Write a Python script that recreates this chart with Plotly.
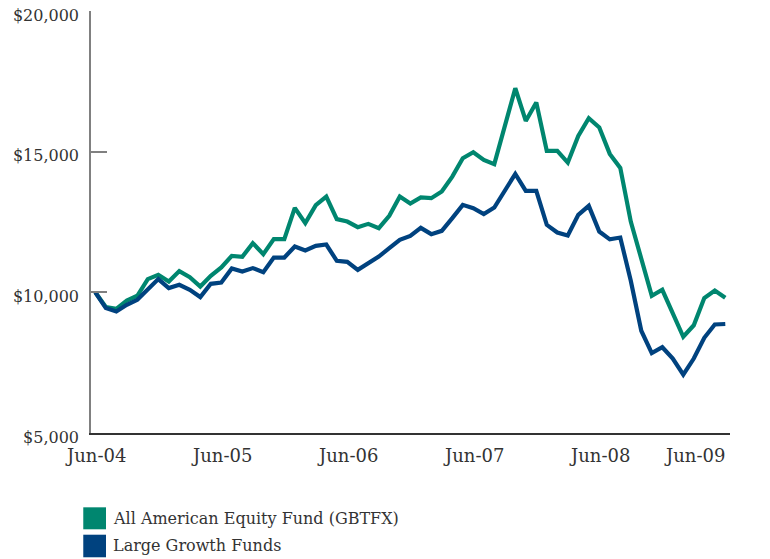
import pandas as pd
import plotly.graph_objects as go

months = list(pd.date_range("2004-06-01", "2009-06-01", freq="MS").strftime("%b-%y"))

fund_values = [
    10000, 9476, 9415, 9710, 9877, 10470, 10623, 10385, 10754, 10541,
    10207, 10587, 10882, 11298, 11262, 11749, 11358, 11891, 11891, 13003,
    12459, 13099, 13404, 12601, 12516, 12317, 12434, 12282, 12719, 13404,
    13159, 13376, 13347, 13582, 14114, 14768, 14981, 14708, 14558, 15890,
    17254, 16093, 16750, 15027, 15027, 14612, 15560, 16189, 15862, 14921,
    14424, 12516, 11216, 9877, 10090, 9262, 8421, 8829, 9795, 10065,
    9806,
]
peer_values = [
    10000, 9440, 9319, 9557, 9735, 10090, 10470, 10150, 10268, 10090,
    9831, 10303, 10349, 10847, 10740, 10861, 10719, 11237, 11237, 11628,
    11486, 11653, 11699, 11120, 11085, 10800, 11038, 11273, 11571, 11866,
    12008, 12292, 12069, 12186, 12637, 13109, 12992, 12779, 13013, 13642,
    14210, 13607, 13607, 12399, 12125, 12019, 12754, 13074, 12161, 11884,
    11948, 10410, 8634, 7842, 8048, 7646, 7071, 7646, 8385, 8857,
    8875,
]

series_names = ["All American Equity Fund (GBTFX)", "Large Growth Funds"]
series_colors = ["#00866F", "#00427F"]

y_tickvals = [5000, 10000, 15000, 20000]
y_ticktext = ["$5,000", "$10,000", "$15,000", "$20,000"]
x_ticklabels = ["Jun-04", "Jun-05", "Jun-06", "Jun-07", "Jun-08", "Jun-09"]

SERIF = "DejaVu Serif"
TEXT = "#333333"

fig = go.Figure()
for name, vals, col in [(series_names[0], fund_values, series_colors[0]),
                        (series_names[1], peer_values, series_colors[1])]:
    fig.add_trace(go.Scatter(x=months, y=vals, mode="lines", name=name,
                             line=dict(color=col, width=4.2), showlegend=False))

# x tick labels as annotations (last one kept inside the axis end)
annotations = []
for lab in x_ticklabels:
    last = lab == x_ticklabels[-1]
    annotations.append(dict(
        x=lab, y=-0.053, xref="x", yref="paper", text=lab, showarrow=False,
        xanchor="right" if last else "center", yanchor="middle", xshift=2 if last else 0,
        font=dict(family=SERIF, size=18, color=TEXT)))

# legend: swatches + labels
shapes = []
leg_rows = [(-0.1761, -0.2282), (-0.2410, -0.2945)]
for (y1, y0), name, col in zip(leg_rows, series_names, series_colors):
    shapes.append(dict(type="rect", xref="paper", yref="paper",
                       x0=-0.0121, x1=0.0235, y0=y0, y1=y1,
                       fillcolor=col, line=dict(width=0)))
    annotations.append(dict(x=0.0313, y=(y0 + y1) / 2, xref="paper", yref="paper",
                            text=name, showarrow=False, xanchor="left", yanchor="middle",
                            font=dict(family=SERIF, size=16, color=TEXT)))

fig.update_layout(
    width=770, height=559,
    margin=dict(l=91, r=40, t=11, b=126),
    paper_bgcolor="white", plot_bgcolor="white",
    showlegend=False,
    shapes=shapes, annotations=annotations,
    xaxis=dict(type="category", range=[-0.41, 60.45], showgrid=False, zeroline=False,
               showticklabels=False, ticks="", showline=True, linecolor="#333333",
               linewidth=1.5),
    yaxis=dict(range=[5000, 20000], tickvals=y_tickvals, ticktext=y_ticktext,
               showgrid=False, zeroline=False, showline=True, linecolor="#808080",
               linewidth=1.5, ticks="inside", ticklen=16, tickcolor="#808080",
               tickwidth=1.5, ticklabelstandoff=7, ticklabelshift=4, automargin=False,
               tickfont=dict(family=SERIF, size=16, color=TEXT)),
)

fig.write_html("out.html", config={"displayModeBar": False},
               post_script="document.body.style.margin='0';")
